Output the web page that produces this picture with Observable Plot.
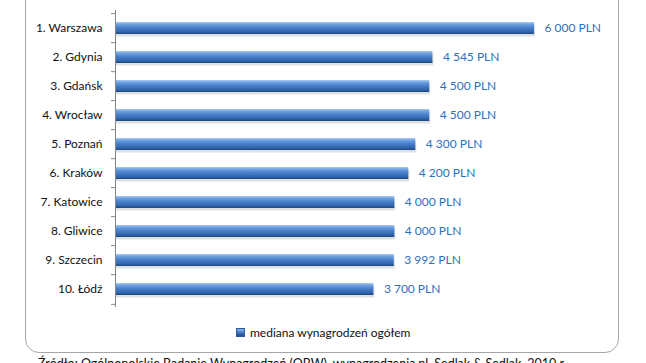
<!DOCTYPE html>
<html>
<head>
<meta charset="utf-8">
<script src="https://cdn.jsdelivr.net/npm/d3@7"></script>
<script src="https://cdn.jsdelivr.net/npm/@observablehq/plot@0.6"></script>
<style>
  html, body { margin: 0; padding: 0; background: #fff; overflow: hidden; width: 646px; height: 363px; }
  body { position: relative; font-family: Lato, "Open Sans", sans-serif; }
  #frame { position: absolute; left: 25px; top: -20px; width: 594px; height: 373px; border: 1px solid #a6a6a6; border-radius: 14px; box-sizing: border-box; }
  #chart { position: absolute; left: 0; top: 0; }
  #legend { position: absolute; left: 236px; top: 325px; font-size: 12px; color: #111; display: flex; align-items: center; white-space: nowrap; }
  #legend .sw { width: 7px; height: 7px; margin-right: 5px; background: linear-gradient(#8ab6e8, #3a70bd 60%, #1d4b8a); border: 0.5px solid #2a5a9a; }
  #caption { position: absolute; left: 38px; top: 357px; font-size: 12.5px; line-height: 14px; color: #111; white-space: nowrap; }
</style>
</head>
<body>
<div id="frame"></div>
<div id="chart"></div>
<div id="legend"><span class="sw"></span><span>mediana wynagrodzeń ogółem</span></div>
<div id="caption">Źródło: Ogólnopolskie Badanie Wynagrodzeń (OBW), wynagrodzenia.pl, Sedlak &amp; Sedlak, 2010 r.</div>
<script>
const cities = ["1. Warszawa", "2. Gdynia", "3. Gdańsk", "4. Wrocław", "5. Poznań", "6. Kraków", "7. Katowice", "8. Gliwice", "9. Szczecin", "10. Łódź"];
const medians = [6000, 4545, 4500, 4500, 4300, 4200, 4000, 4000, 3992, 3700];
const seriesName = "mediana wynagrodzeń ogółem";

const data = cities.map((c, i) => ({city: c, value: medians[i]}));
const fmt = v => `${Math.floor(v / 1000)} ${String(v % 1000).padStart(3, "0")} PLN`;

const H = 315, mTop = 10, mBottom = 8;
const step = (H - mTop - mBottom) / cities.length;

const chart = Plot.plot({
  width: 646,
  height: H,
  marginLeft: 115,
  marginRight: 112,
  marginTop: mTop,
  marginBottom: mBottom,
  style: {fontFamily: "Lato, 'Open Sans', sans-serif", fontSize: "12px", background: "transparent", overflow: "visible"},
  x: {domain: [0, 6000], axis: null},
  y: {domain: cities, paddingInner: 0.58, paddingOuter: 0.29, label: null},
  marks: [
    // shadow
    Plot.barX(data, {y: "city", x: "value", fill: "#000", fillOpacity: 0.12, dy: 2.5, dx: 1}),
    Plot.barX(data, {y: "city", x: "value", fill: "url(#barGrad)"}),
    // end cap bevel
    Plot.ruleX(data, {y: "city", x: "value", stroke: "#1c3f70", strokeWidth: 2, dx: -1}),
    Plot.text(data, {y: "city", x: "value", text: d => fmt(d.value), textAnchor: "start", dx: 10, fill: "#2f6fbf", fontSize: 12}),
    Plot.axisY({tickSize: 0, tickPadding: 13, fontSize: 12, fill: "#111"}),
    Plot.ruleX([0], {stroke: "#868686"}),
    Plot.ruleY(cities, {y: d => d, x1: 0, x2: 0, insetLeft: -4, dy: -step / 2, stroke: "#868686"}),
    Plot.ruleY([cities[cities.length - 1]], {y: d => d, x1: 0, x2: 0, insetLeft: -4, dy: step / 2, stroke: "#868686"})
  ]
});

const svg = d3.select(chart);
const defs = svg.insert("defs", ":first-child");
const g = defs.append("linearGradient").attr("id", "barGrad").attr("x1", 0).attr("y1", 0).attr("x2", 0).attr("y2", 1);
[["0%", "#a9cdf4"], ["18%", "#6fa2e0"], ["45%", "#4a82cc"], ["80%", "#3266ad"], ["100%", "#1c467f"]]
  .forEach(([o, c]) => g.append("stop").attr("offset", o).attr("stop-color", c));

document.getElementById("chart").appendChild(chart);
</script>
</body>
</html>
